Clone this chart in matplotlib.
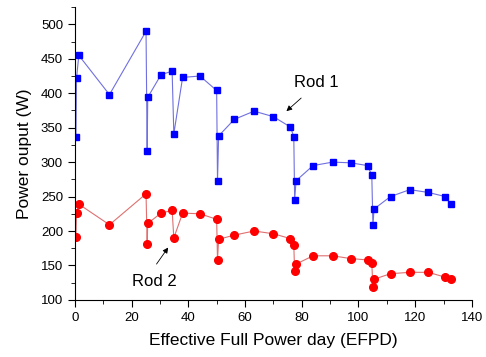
import matplotlib.pyplot as plt
from matplotlib.ticker import MultipleLocator

plt.rcParams["font.family"] = ["Liberation Sans", "DejaVu Sans"]

# EFPD values shared by both rods
efpd = [0.4, 0.6, 1.4, 12.2, 25.1, 25.5, 25.7, 30.4, 34.3, 34.9, 38.0, 44.1,
        50.0, 50.3, 50.7, 56.2, 63.2, 70.0, 76.0, 77.2, 77.5, 78.0, 84.0, 90.9,
        97.2, 103.2, 104.7, 105.1, 105.5, 111.3, 118.1, 124.6, 130.6, 132.5]

rod1 = [336, 422, 455, 398, 490, 316, 394, 427, 432, 341, 423, 425,
        404, 273, 338, 362, 374, 366, 351, 337, 245, 273, 295, 300,
        299, 295, 281, 208, 232, 250, 260, 256, 250, 239]

rod2 = [192, 226, 239, 209, 254, 181, 211, 226, 230, 190, 226, 225,
        217, 158, 188, 194, 200, 196, 189, 179, 142, 152, 164, 164,
        160, 158, 153, 119, 130, 138, 140, 140, 133, 130]


def arrow(ax, tail, tip):
    ax.annotate("", xy=tip, xytext=tail,
                arrowprops=dict(arrowstyle="-|>", color="black", lw=0.6,
                                shrinkA=0, shrinkB=0, mutation_scale=8))


def main():
    fig = plt.figure(figsize=(4.86, 3.57), dpi=100)
    ax = fig.add_axes([0.154, 0.160, 0.817, 0.820])

    ax.plot(efpd, rod1, color="#7070e0", lw=0.8, marker="s", ms=5,
            mfc="#0000ff", mec="#0000ff")
    ax.plot(efpd, rod2, color="#e07070", lw=0.8, marker="o", ms=5.5,
            mfc="#ff0000", mec="#ff0000")

    ax.set_xlim(0, 140)
    ax.set_ylim(100, 525)
    ax.xaxis.set_major_locator(MultipleLocator(20))
    ax.xaxis.set_minor_locator(MultipleLocator(10))
    ax.yaxis.set_minor_locator(MultipleLocator(25))
    ax.set_yticks(range(100, 501, 50))
    ax.spines["top"].set_visible(False)
    ax.spines["right"].set_visible(False)
    ax.tick_params(which="major", direction="out", length=5, labelsize=9.5)
    ax.tick_params(which="minor", direction="out", length=3)

    ax.set_xlabel("Effective Full Power day (EFPD)", fontsize=12.5, labelpad=7)
    ax.set_ylabel("Power ouput (W)", fontsize=12.5, labelpad=6)

    ax.text(85.3, 416, "Rod 1", fontsize=12, ha="center", va="center")
    arrow(ax, (79.8, 393), (74.6, 374))
    ax.text(27.9, 126, "Rod 2", fontsize=12, ha="center", va="center")
    arrow(ax, (28.8, 152), (32.9, 176))

    fig.savefig("out.png", dpi=100)


if __name__ == "__main__":
    main()
